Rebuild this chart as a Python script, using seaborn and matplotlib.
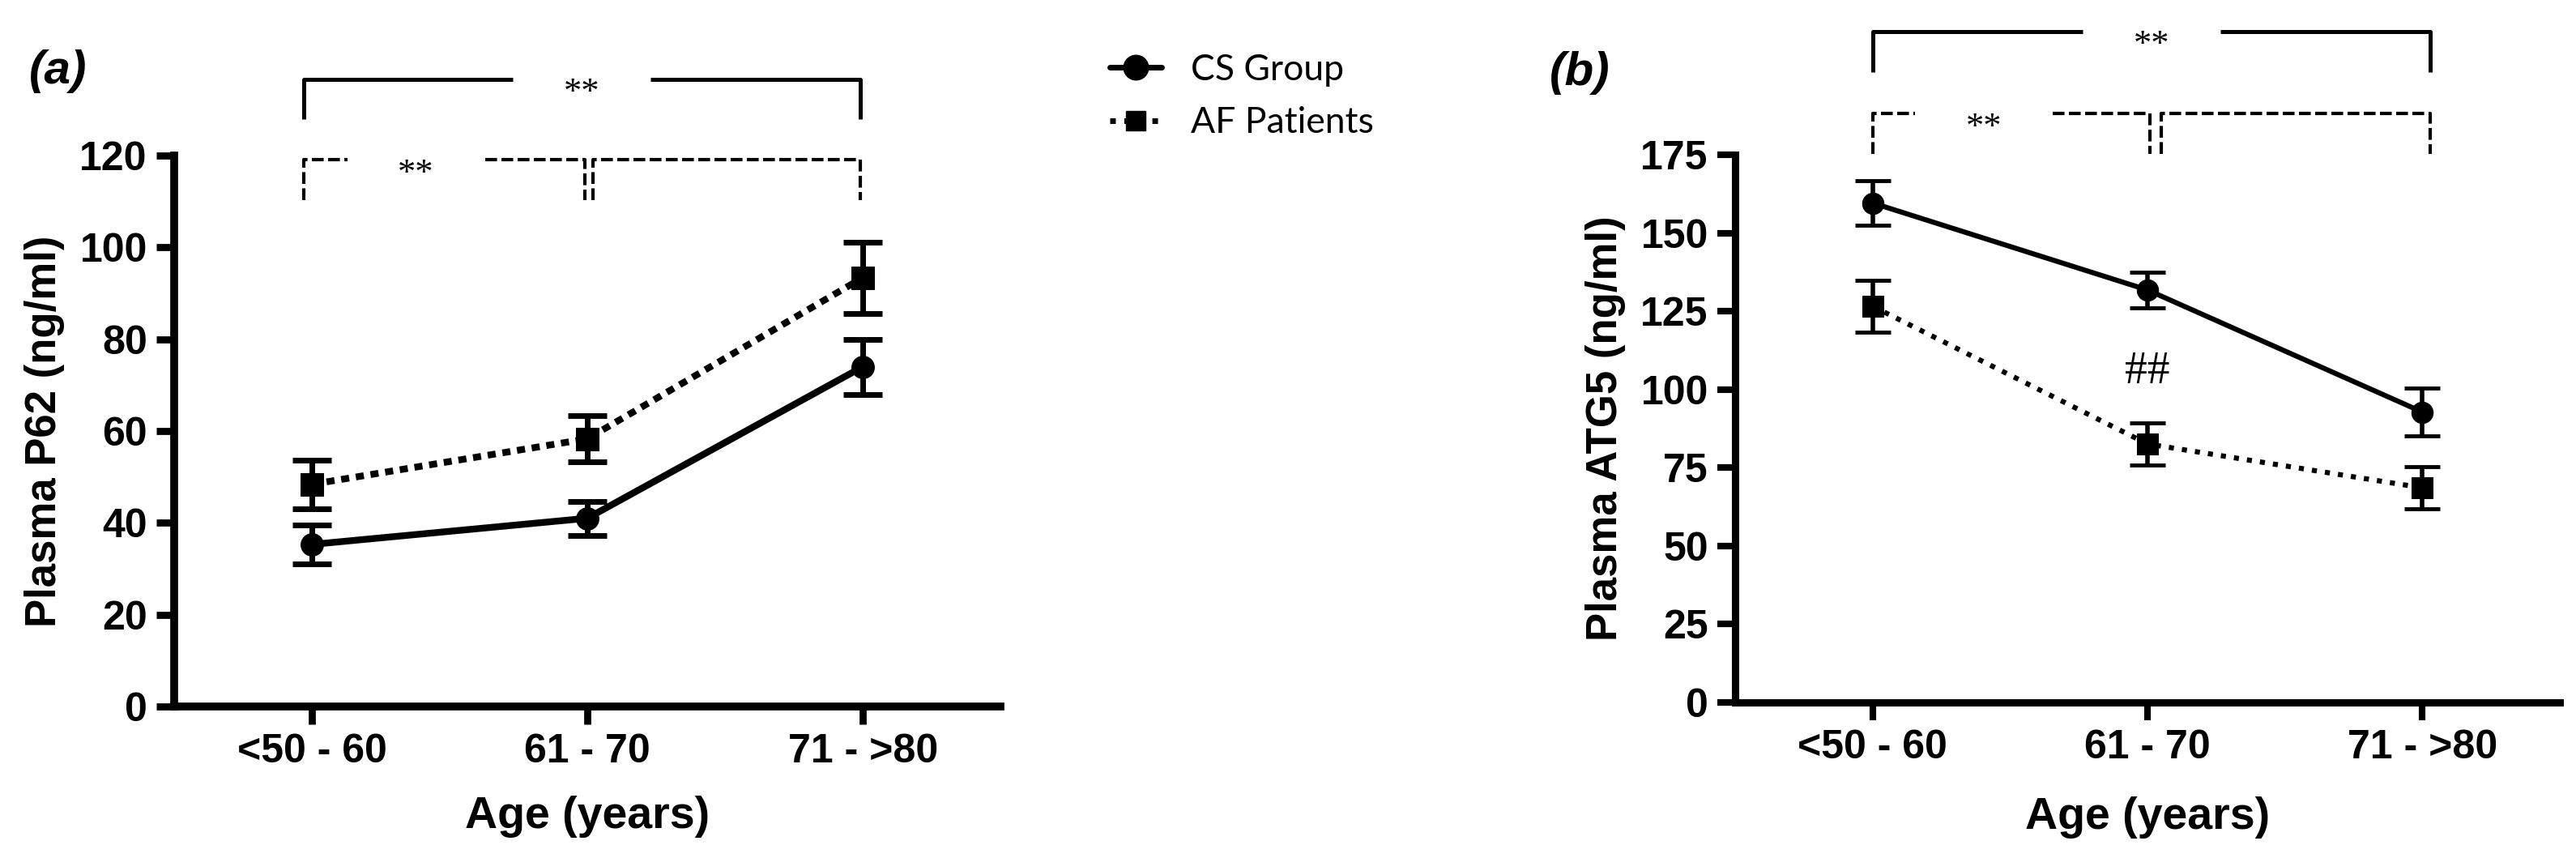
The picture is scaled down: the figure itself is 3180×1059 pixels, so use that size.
""" Plasma P62 and ATG5 by age group, CS group vs AF patients """

import matplotlib
matplotlib.use("Agg")
import matplotlib.pyplot as plt
from matplotlib.lines import Line2D
import pandas as pd
import seaborn as sns

AGE_GROUPS = ["<50 - 60", "61 - 70", "71 - >80"]
GROUPS = ["CS Group", "AF Patients"]

# Plasma P62 (ng/ml): mean and SEM per age group
P62_CS = [35.3, 41.0, 74.0]
P62_CS_SEM = [4.2, 3.7, 6.0]
P62_AF = [48.4, 58.3, 93.4]
P62_AF_SEM = [5.3, 5.0, 7.8]

# Plasma ATG5 (ng/ml): mean and SEM per age group
ATG5_CS = [159.6, 131.8, 92.8]
ATG5_CS_SEM = [7.2, 5.7, 7.6]
ATG5_AF = [126.6, 82.6, 68.6]
ATG5_AF_SEM = [8.2, 6.8, 6.8]

# significance brackets: (from group, to group, label)
BRACKETS_TOP = [(0, 2, "**")]
BRACKETS_LOW = [(0, 1, "**"), (1, 2, "")]

BOLD = "Liberation Sans"
SERIF = "Liberation Serif"


def make_frame():
    """ Long table with one row per group and age category """
    df = pd.DataFrame({
        "age": AGE_GROUPS * 2,
        "group": [g for g in GROUPS for _ in AGE_GROUPS],
        "p62": P62_CS + P62_AF,
        "p62_sem": P62_CS_SEM + P62_AF_SEM,
        "atg5": ATG5_CS + ATG5_AF,
        "atg5_sem": ATG5_CS_SEM + ATG5_AF_SEM,
    })
    df["pos"] = df["age"].map({a: i for i, a in enumerate(AGE_GROUPS)})
    return df


def bracket(ax, x1, x2, y, drop, label, ls, lw, gap=0.5, fs=32):
    """ Draw a comparison bracket above the axes """
    kw = dict(color="black", lw=lw, ls=ls, clip_on=False, solid_capstyle="butt")
    if label:
        lx = x1 + (x2 - x1) * 0.4 if x2 - x1 < 1.5 else (x1 + x2) / 2
        ax.plot([x1, x1, lx - gap / 2], [y - drop, y, y], **kw)
        ax.plot([lx + gap / 2, x2, x2], [y, y, y - drop], **kw)
        ax.text(lx, y + drop * 0.05, label, ha="center", va="top",
                fontsize=fs, family=SERIF)
    else:
        ax.plot([x1, x1, x2, x2], [y - drop, y, y, y - drop], **kw)


def style_axes(ax, ymax, step, ylabel, spine_w, xlab_y):
    ax.set_xlim(-0.5, 2.5)
    ax.set_ylim(0, ymax)
    ax.set_yticks(range(0, ymax + 1, step))
    ax.set_xticks(range(len(AGE_GROUPS)))
    ax.set_xticklabels(AGE_GROUPS)
    sns.despine(ax=ax)
    for side in ["left", "bottom"]:
        ax.spines[side].set_linewidth(spine_w)
        ax.spines[side].set_color("black")
    ax.tick_params(length=16, width=spine_w * 0.9, pad=8, labelsize=36,
                   color="black", labelcolor="black")
    for lab in ax.get_xticklabels() + ax.get_yticklabels():
        lab.set_fontweight("bold")
    ax.set_xlabel("Age (years)", fontsize=40, fontweight="bold", va="center")
    ax.set_ylabel(ylabel, fontsize=38, fontweight="bold", va="center")
    ax.xaxis.set_label_coords(0.5, xlab_y)
    ax.yaxis.set_label_coords(-0.157, 0.5)


def draw_panel(ax, df, col, af_dash, lw, ms, elw, cap, capw):
    sns.lineplot(
        data=df, x="pos", y=col, style="group", style_order=GROUPS,
        markers={"CS Group": "o", "AF Patients": "s"},
        dashes={"CS Group": "", "AF Patients": af_dash},
        color="black", lw=lw, markersize=ms, markeredgecolor="black",
        legend=False, sort=False, errorbar=None, ax=ax,
    )
    for g in GROUPS:
        sub = df[df["group"] == g]
        ax.errorbar(sub["pos"], sub[col], yerr=sub[col + "_sem"], fmt="none",
                    ecolor="black", elinewidth=elw, capsize=cap,
                    capthick=capw, clip_on=False)


def main():
    sns.set_style("ticks")
    plt.rcParams["font.family"] = [BOLD, "DejaVu Sans"]
    plt.rcParams["text.color"] = "black"
    plt.rcParams["axes.labelcolor"] = "black"

    df = make_frame()
    fig = plt.figure(figsize=(31.8, 10.59), dpi=100)
    ax_a = fig.add_axes([0.0676, 0.1766, 0.3208, 0.6421])
    ax_b = fig.add_axes([0.6736, 0.1813, 0.3201, 0.6383])

    # (a) P62
    draw_panel(ax_a, df, "p62", (1.2, 1.0), 6, 20, 5, 17, 5)
    style_axes(ax_a, 120, 20, "Plasma P62 (ng/ml)", 7, -0.2)
    for x1, x2, lab in BRACKETS_TOP:
        bracket(ax_a, x1 - 0.03, x2 - 0.01, 136.6, 8.7, lab, "-", 3.6)
    for x1, x2, lab in BRACKETS_LOW:
        bracket(ax_a, x1 + (0.02 if x1 else -0.03), x2 - 0.01, 119.1, 8.8,
                lab, (0, (3.5, 1.3)), 3)

    # (b) ATG5
    draw_panel(ax_b, df, "atg5", (1, 1.6), 4.5, 19, 4, 16, 3.5)
    style_axes(ax_b, 175, 25, "Plasma ATG5 (ng/ml)", 6.5, -0.21)
    for x1, x2, lab in BRACKETS_TOP:
        bracket(ax_b, x1, x2 + 0.03, 214.4, 13, lab, "-", 3.6)
    for x1, x2, lab in BRACKETS_LOW:
        bracket(ax_b, x1 + (0.05 if x1 else 0), x2 + (0.03 if x1 else 0.01),
                188.2, 13, lab, (0, (3.5, 1.3)), 3)
    ax_b.text(1.0, 105.6, "##", ha="center", va="center", fontsize=40,
              family=SERIF)

    fig.text(72 / 3180, 1 - 88 / 1059, "(a)", fontsize=42, fontweight="bold",
             fontstyle="italic", ha="center", va="center")
    fig.text(1950 / 3180, 1 - 90 / 1059, "(b)", fontsize=42, fontweight="bold",
             fontstyle="italic", ha="center", va="center")

    handles = [
        Line2D([], [], color="black", lw=5, marker="o", markersize=22),
        Line2D([], [], color="black", lw=5, ls=(0, (1, 1.5)), marker="s",
               markersize=17),
    ]
    fig.legend(handles, GROUPS, loc="upper left",
               bbox_to_anchor=(1370 / 3180, 1 - 66 / 1059), frameon=False,
               prop={"family": "Lato", "size": 32}, handlelength=1.45,
               handletextpad=0.8, labelspacing=0.55, borderpad=0,
               borderaxespad=0)

    fig.savefig("out.png", dpi=100)


if __name__ == "__main__":
    main()
